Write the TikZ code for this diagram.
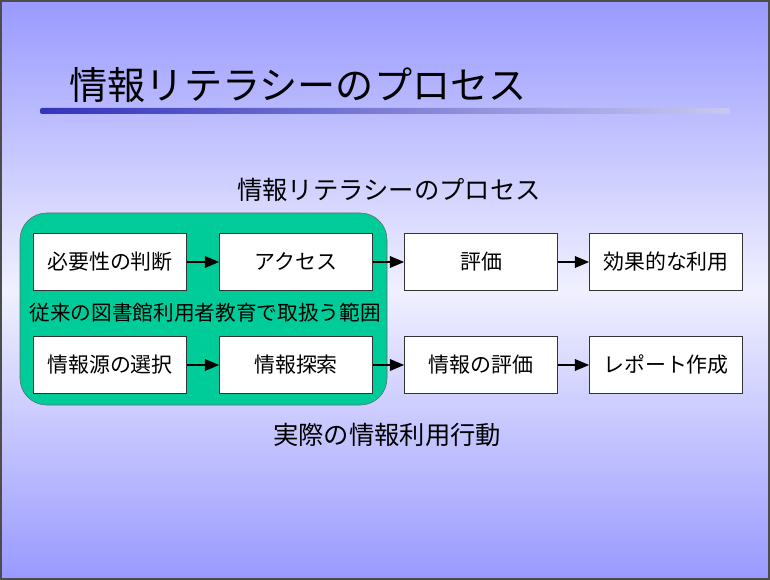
\documentclass[tikz,border=0pt]{standalone}
\usepackage{fontspec}
\setmainfont{Noto Sans CJK JP}
\usetikzlibrary{arrows,calc,positioning}

\definecolor{bgblue}{RGB}{153,153,255}
\definecolor{bgpale}{RGB}{240,240,255}
\definecolor{barblue}{RGB}{51,51,187}
\definecolor{barfade}{RGB}{200,200,240}
\definecolor{scopegreen}{RGB}{0,204,153}

\tikzset{
  stepbox/.style={draw=black!80,fill=white,minimum width=115pt,minimum height=43pt,
    inner sep=0pt,font=\fontsize{15.7pt}{18pt}\selectfont},
  flow/.style={->,>=triangle 45,line width=1.5pt,black}
}

\begin{document}
\begin{tikzpicture}[x=0.75pt,y=-0.75pt]
            % slide background
            \useasboundingbox (0,0) rectangle (770,580);
            \shade[top color=bgblue,bottom color=bgblue,middle color=bgpale] (0,0) rectangle (770,580);
            \draw[line width=1.5pt,black!70] (0.75,0.75) rectangle (769.25,579.25);

            % title and its bar
            \node[anchor=base west,font=\fontsize{28.6pt}{32pt}\selectfont] (title) at (65,100) {情報リテラシーのプロセス};
            \shade[left color=barblue,right color=barfade,rounded corners=1.5pt] (40,108) rectangle (730,114);

            \node[font=\fontsize{19pt}{22pt}\selectfont] (head) at (389,190) {情報リテラシーのプロセス};

            % range of library instruction
            \draw[fill=scopegreen,draw=black!60,rounded corners=20pt] (20,213) rectangle (387,405);

            \node[stepbox] (need) at (110,262) {必要性の判断};
            \node[stepbox] (access) at (296,262) {アクセス};
            \node[stepbox] (eval) at (481,262) {評価};
            \node[stepbox] (use) at (666,262) {効果的な利用};

            \node[font=\fontsize{15.5pt}{18pt}\selectfont] (scope) at (205,313) {従来の図書館利用者教育で取扱う範囲};

            \node[stepbox] (source) at (110,365) {情報源の選択};
            \node[stepbox] (search) at (296,365) {情報探索};
            \node[stepbox] (infoeval) at (481,365) {情報の評価};
            \node[stepbox] (report) at (666,365) {レポート作成};

            \node[font=\fontsize{19pt}{22pt}\selectfont] (actual) at (387,435) {実際の情報利用行動};

            \draw[flow] (need) -- (access);
            \draw[flow] (access) -- (eval);
            \draw[flow] (eval) -- (use);
            \draw[flow] (source) -- (search);
            \draw[flow] (search) -- (infoeval);
            \draw[flow] (infoeval) -- (report);

        \end{tikzpicture}
\end{document}
